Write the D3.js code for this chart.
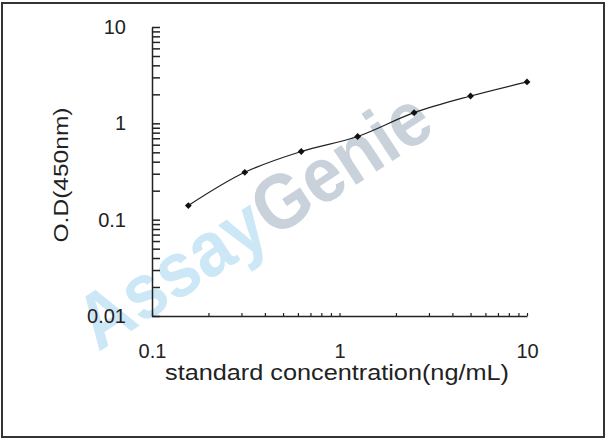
<!DOCTYPE html>
<html>
<head>
<meta charset="utf-8">
<script src="https://cdn.jsdelivr.net/npm/d3@7"></script>
<style>
  body { margin: 0; background: #fff; }
  text { font-family: Arial, "Liberation Sans", sans-serif; }
</style>
</head>
<body>
<script>
// standard curve: concentration (ng/mL) vs O.D(450nm)
const concentrations = [0.15625, 0.3125, 0.625, 1.25, 2.5, 5, 10];
const odValues = [0.14, 0.31, 0.51, 0.73, 1.29, 1.92, 2.69];

const xMajor = [0.1, 1, 10];
const yMajor = [0.01, 0.1, 1, 10];
const xTickLabels = ["0.1", "1", "10"];
const yTickLabels = ["0.01", "0.1", "1", "10"];

const W = 608, H = 441;

const svg = d3.select("body").append("svg")
    .attr("width", W)
    .attr("height", H);

svg.append("rect")
    .attr("x", 2).attr("y", 3)
    .attr("width", 602).attr("height", 434)
    .attr("fill", "#fff")
    .attr("stroke", "#333")
    .attr("stroke-width", 2);

const x = d3.scaleLog().domain([0.1, 10]).range([152, 527]);
const y = d3.scaleLog().domain([0.01, 10]).range([316, 27]);

// watermark
const wm = svg.append("text")
    .attr("transform", "translate(268,242) rotate(-33)")
    .attr("text-anchor", "middle")
    .style("font-size", "78px")
    .style("font-weight", "bold")
    .attr("textLength", 405)
    .attr("lengthAdjust", "spacingAndGlyphs");
wm.append("tspan").attr("fill", "#cce7f5").text("Assay");
wm.append("tspan").attr("fill", "#c9d1db").text("Genie");

// log ticks 1..9 per decade
const logTicks = (lo, hi) => {
    const out = [];
    for (let e = lo; e < hi; e++)
        for (let k = 1; k <= 9; k++) out.push(k * Math.pow(10, e));
    out.push(Math.pow(10, hi));
    return out;
};

// y axis, ticks pointing inward
const yAx = svg.append("g")
    .attr("transform", "translate(152,0)")
    .call(d3.axisRight(y).tickValues(logTicks(-2, 1)).tickSize(8).tickFormat("").tickSizeOuter(0));
yAx.select(".domain").attr("stroke", "#222").attr("stroke-width", 1.5);
yAx.selectAll(".tick line").attr("stroke", "#222").attr("stroke-width", 1.5);

svg.append("g")
    .attr("transform", "translate(152,0)")
    .call(d3.axisLeft(y).tickValues(yMajor).tickSize(0).tickPadding(26)
        .tickFormat((d, i) => yTickLabels[i]))
    .call(g => g.select(".domain").remove())
    .selectAll("text")
    .style("font-size", "20px")
    .attr("fill", "#222");

// x axis, small ticks pointing up
const xAx = svg.append("g")
    .attr("transform", "translate(0,316)")
    .call(d3.axisTop(x).tickValues(logTicks(-1, 1)).tickSize(3).tickFormat("").tickSizeOuter(0));
xAx.select(".domain").attr("stroke", "#222").attr("stroke-width", 1.5);
xAx.selectAll(".tick line").attr("stroke", "#222").attr("stroke-width", 1.2);

svg.append("g")
    .attr("transform", "translate(0,316)")
    .call(d3.axisBottom(x).tickValues(xMajor).tickSize(0).tickPadding(28)
        .tickFormat((d, i) => xTickLabels[i]))
    .call(g => g.select(".domain").remove())
    .selectAll("text")
    .style("font-size", "20px")
    .attr("fill", "#222");

// axis titles
svg.append("text")
    .attr("x", 337).attr("y", 380)
    .attr("text-anchor", "middle")
    .style("font-size", "22px")
    .attr("fill", "#222")
    .attr("textLength", 344)
    .attr("lengthAdjust", "spacingAndGlyphs")
    .text("standard concentration(ng/mL)");

svg.append("text")
    .attr("transform", "translate(68,175) rotate(-90)")
    .attr("text-anchor", "middle")
    .style("font-size", "21px")
    .attr("fill", "#222")
    .attr("textLength", 135)
    .attr("lengthAdjust", "spacingAndGlyphs")
    .text("O.D(450nm)");

// curve
const pts = concentrations.map((c, i) => [c, odValues[i]]);

svg.append("path")
    .datum(pts)
    .attr("fill", "none")
    .attr("stroke", "#222")
    .attr("stroke-width", 1.2)
    .attr("d", d3.line()
        .x(d => x(d[0]))
        .y(d => y(d[1]))
        .curve(d3.curveCatmullRom));

svg.selectAll(".pt")
    .data(pts)
    .enter().append("path")
    .attr("class", "pt")
    .attr("transform", d => "translate(" + x(d[0]) + "," + y(d[1]) + ")")
    .attr("d", d3.symbol(d3.symbolDiamond2, 30))
    .attr("fill", "#111");
</script>
</body>
</html>
